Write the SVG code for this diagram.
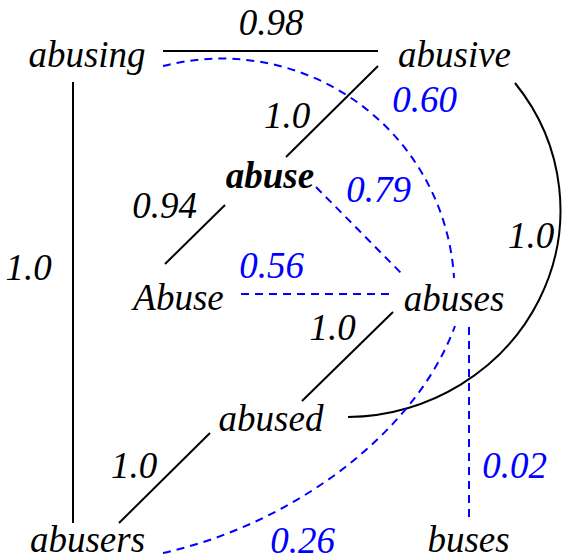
<svg xmlns="http://www.w3.org/2000/svg" width="566" height="558" viewBox="0 0 566 558">
<style>
.t{font-style:italic;font-size:37px;text-anchor:middle;fill:#000}
.w{fill:#0000ff}
.b{font-weight:bold}
.s{fill:none;stroke:#000;stroke-width:2}
.d{fill:none;stroke:#0000ff;stroke-width:2;stroke-dasharray:8,6}
</style>
<rect width="566" height="558" fill="#fff"/>
<g id="connectors">
<path class="s" d="M163,51 H378"/>
<path class="s" d="M73,82 V523"/>
<path class="s" d="M378,66 L286,157"/>
<path class="s" d="M225,205 L165,264"/>
<path class="s" d="M393,312 L302,401"/>
<path class="s" d="M210,433 L119,523"/>
<path class="s" d="M515,83 A216,207 0 0 1 348,417"/>
<path class="d" d="M163,66 A233,233 0 0 1 454,278"/>
<path class="d" d="M316,187 L403,275"/>
<path class="d" d="M241,294 H393"/>
<path class="d" d="M163,553 C290,525 415,435 455,326"/>
<path class="d" d="M469,327 V523"/>
</g>
<g font-family="Liberation Serif, DejaVu Serif, serif">
<g id="edge-labels">
<text class="t" x="271" y="35">0.98</text>
<text class="t w" x="424.5" y="112">0.60</text>
<text class="t" x="287" y="128">1.0</text>
<text class="t w" x="378.5" y="202">0.79</text>
<text class="t" x="164.5" y="218">0.94</text>
<text class="t" x="28.5" y="280">1.0</text>
<text class="t w" x="271.5" y="278">0.56</text>
<text class="t" x="531" y="248">1.0</text>
<text class="t" x="332.5" y="340">1.0</text>
<text class="t w" x="514.5" y="478">0.02</text>
<text class="t" x="134" y="478">1.0</text>
<text class="t w" x="302.5" y="553">0.26</text>
</g>
<g id="node-abusing"><text class="t" x="87" y="67">abusing</text></g>
<g id="node-abusive"><text class="t" x="454.5" y="67">abusive</text></g>
<g id="node-abuse"><text class="t b" x="270" y="188">abuse</text></g>
<g id="node-Abuse"><text class="t" x="178.5" y="310">Abuse</text></g>
<g id="node-abuses"><text class="t" x="454" y="311">abuses</text></g>
<g id="node-abused"><text class="t" x="271" y="431">abused</text></g>
<g id="node-abusers"><text class="t" x="87.5" y="552">abusers</text></g>
<g id="node-buses"><text class="t" x="468.5" y="552">buses</text></g>
</g>
</svg>
